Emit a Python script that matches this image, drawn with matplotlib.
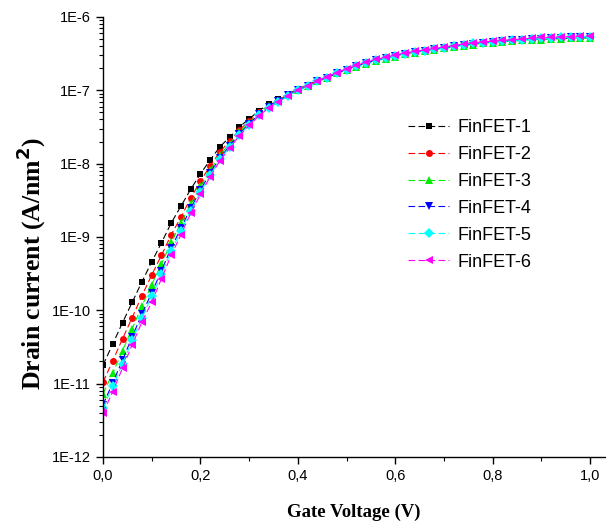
import matplotlib.pyplot as plt
import numpy as np
from matplotlib.ticker import FixedLocator, FuncFormatter, MultipleLocator, NullFormatter

# gate voltage sweep (V), 20 mV step
vg = np.arange(51) * 0.02

# log10 of drain current (A/nm^2) for each device
log_id_1 = [-10.75, -10.46, -10.17, -9.89, -9.61, -9.34, -9.08, -8.81, -8.58, -8.35,
            -8.14, -7.95, -7.77, -7.64, -7.50, -7.39, -7.28, -7.19, -7.12, -7.05,
            -6.98, -6.93, -6.87, -6.82, -6.76, -6.71, -6.67, -6.63, -6.59, -6.56,
            -6.53, -6.50, -6.48, -6.46, -6.44, -6.42, -6.40, -6.38, -6.37, -6.35,
            -6.34, -6.33, -6.32, -6.31, -6.30, -6.30, -6.29, -6.29, -6.28, -6.28, -6.28]
log_id_2 = [-10.98, -10.69, -10.39, -10.10, -9.80, -9.52, -9.25, -8.97, -8.73, -8.47,
            -8.24, -8.03, -7.84, -7.69, -7.54, -7.42, -7.30, -7.21, -7.13, -7.06,
            -6.99, -6.93, -6.87, -6.82, -6.76, -6.71, -6.67, -6.63, -6.59, -6.56,
            -6.53, -6.50, -6.48, -6.46, -6.44, -6.42, -6.40, -6.38, -6.37, -6.35,
            -6.34, -6.33, -6.32, -6.31, -6.30, -6.30, -6.29, -6.29, -6.28, -6.28, -6.28]
log_id_3 = [-11.14, -10.86, -10.55, -10.25, -9.94, -9.65, -9.37, -9.07, -8.81, -8.55,
            -8.31, -8.09, -7.88, -7.73, -7.57, -7.44, -7.32, -7.22, -7.14, -7.07,
            -6.99, -6.94, -6.88, -6.83, -6.77, -6.72, -6.68, -6.64, -6.60, -6.57,
            -6.54, -6.51, -6.49, -6.47, -6.45, -6.43, -6.41, -6.39, -6.38, -6.36,
            -6.35, -6.34, -6.33, -6.32, -6.31, -6.31, -6.30, -6.30, -6.29, -6.29, -6.29]
log_id_4 = [-11.29, -10.99, -10.68, -10.36, -10.05, -9.76, -9.46, -9.15, -8.88, -8.61,
            -8.36, -8.13, -7.92, -7.76, -7.59, -7.46, -7.33, -7.23, -7.15, -7.07,
            -7.00, -6.94, -6.88, -6.83, -6.77, -6.72, -6.67, -6.63, -6.59, -6.56,
            -6.53, -6.50, -6.48, -6.46, -6.44, -6.42, -6.40, -6.38, -6.37, -6.35,
            -6.34, -6.33, -6.32, -6.31, -6.30, -6.30, -6.29, -6.29, -6.28, -6.28, -6.28]
log_id_5 = [-11.33, -11.04, -10.73, -10.41, -10.10, -9.81, -9.51, -9.19, -8.92, -8.64,
            -8.39, -8.16, -7.94, -7.78, -7.61, -7.47, -7.34, -7.24, -7.16, -7.08,
            -7.00, -6.94, -6.88, -6.83, -6.77, -6.72, -6.67, -6.63, -6.59, -6.56,
            -6.53, -6.50, -6.48, -6.46, -6.44, -6.42, -6.40, -6.38, -6.36, -6.35,
            -6.34, -6.33, -6.32, -6.31, -6.30, -6.29, -6.29, -6.28, -6.28, -6.27, -6.27]
log_id_6 = [-11.40, -11.11, -10.79, -10.47, -10.16, -9.89, -9.57, -9.25, -8.97, -8.68,
            -8.42, -8.18, -7.96, -7.79, -7.62, -7.48, -7.35, -7.24, -7.16, -7.08,
            -7.00, -6.94, -6.88, -6.82, -6.76, -6.71, -6.66, -6.62, -6.58, -6.55,
            -6.52, -6.49, -6.47, -6.45, -6.43, -6.41, -6.39, -6.37, -6.35, -6.34,
            -6.33, -6.32, -6.31, -6.30, -6.29, -6.28, -6.28, -6.27, -6.27, -6.26, -6.26]

labels = ["FinFET-1", "FinFET-2", "FinFET-3", "FinFET-4", "FinFET-5", "FinFET-6"]
series = [log_id_1, log_id_2, log_id_3, log_id_4, log_id_5, log_id_6]
colors = ["#000000", "#ff0000", "#00ee00", "#0000ff", "#00ffff", "#ff00ff"]
markers = ["s", "o", "^", "v", "D", "<"]
sizes = [5, 5, 6, 6, 5, 6]

# decades shown on the current axis
decades = np.arange(-12, -5)

plt.rcParams["font.family"] = "Liberation Sans"

fig = plt.figure(figsize=(6.06, 5.30), dpi=100)
ax = fig.add_axes([0.170, 0.138, 0.828, 0.830])

for logs, lab, c, m, s in zip(series, labels, colors, markers, sizes):
    ax.plot(vg, 10 ** np.array(logs), linestyle=(0, (6, 3)), linewidth=0.8,
            color=c, marker=m, markersize=s, markeredgewidth=0, label=lab)

ax.set_yscale("log")
ax.set_ylim(1e-12, 1e-6)
ax.set_xlim(0, 1.03)

ax.spines["top"].set_visible(False)
ax.spines["right"].set_visible(False)
ax.spines["left"].set_linewidth(1.0)
ax.spines["bottom"].set_linewidth(1.0)

ax.xaxis.set_major_locator(MultipleLocator(0.2))
ax.xaxis.set_minor_locator(MultipleLocator(0.1))
ax.xaxis.set_major_formatter(FuncFormatter(lambda v, p: f"{v:.1f}".replace(".", ",")))

minor_y = [k * 10.0 ** d for d in decades[:-1] for k in range(2, 10)]
ax.yaxis.set_major_locator(FixedLocator(10.0 ** decades))
ax.yaxis.set_minor_locator(FixedLocator(minor_y))
ax.yaxis.set_major_formatter(FuncFormatter(lambda v, p: f"1E{int(round(np.log10(v)))}"))
ax.yaxis.set_minor_formatter(NullFormatter())

ax.tick_params(which="major", direction="out", length=5, width=1, labelsize=10.5)
ax.tick_params(which="minor", direction="out", length=3, width=0.8)

ax.set_xlabel("Gate Voltage (V)", family="Liberation Serif", fontweight="bold",
              fontsize=13.5, labelpad=15)
ax.set_ylabel(r"Drain current (A/nm$^\mathbf{2}$)", family="Liberation Serif",
              fontweight="bold", fontsize=18.5)
ax.yaxis.set_label_coords(-0.11, 0.44)

ax.legend(loc="upper left", bbox_to_anchor=(0.575, 0.805), frameon=False,
          fontsize=13, handlelength=2.3, labelspacing=0.55, handletextpad=0.45)

fig.savefig("out.png", dpi=100)
